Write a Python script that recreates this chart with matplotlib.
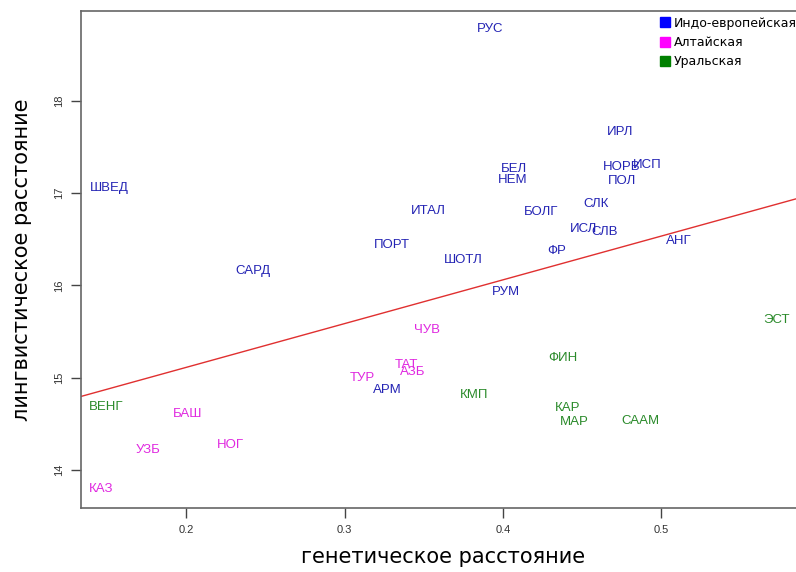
import numpy as np
import matplotlib.pyplot as plt
from matplotlib.lines import Line2D

# Indo-European languages
ie_names = ["РУС", "ИРЛ", "НОРВ", "ИСП", "ПОЛ", "БЕЛ", "НЕМ", "ШВЕД", "ИТАЛ", "БОЛГ",
            "СЛК", "ИСЛ", "СЛВ", "ПОРТ", "АНГ", "ФР", "ШОТЛ", "САРД", "РУМ", "АРМ"]
ie_x = [0.392, 0.474, 0.475, 0.491, 0.475, 0.407, 0.406, 0.151, 0.353, 0.424,
        0.459, 0.451, 0.464, 0.330, 0.511, 0.434, 0.375, 0.242, 0.402, 0.327]
ie_y = [18.78, 17.66, 17.28, 17.30, 17.13, 17.26, 17.14, 17.05, 16.81, 16.80,
        16.88, 16.61, 16.58, 16.44, 16.48, 16.37, 16.27, 16.15, 15.93, 14.86]

# Altaic languages
alt_names = ["ЧУВ", "ТАТ", "АЗБ", "ТУР", "БАШ", "НОГ", "УЗБ", "КАЗ"]
alt_x = [0.352, 0.339, 0.343, 0.311, 0.201, 0.228, 0.176, 0.146]
alt_y = [15.52, 15.14, 15.06, 15.00, 14.60, 14.27, 14.21, 13.79]

# Uralic languages
ur_names = ["ЭСТ", "ФИН", "КМП", "ВЕНГ", "КАР", "МАР", "СААМ"]
ur_x = [0.573, 0.438, 0.382, 0.149, 0.441, 0.445, 0.487]
ur_y = [15.62, 15.21, 14.81, 14.68, 14.67, 14.52, 14.53]

# regression line
intercept = 14.162
slope = 4.744

families = ["Индо-европейская", "Алтайская", "Уральская"]
text_colors = ["#2424b4", "#e028e0", "#2a8a2a"]
box_colors = ["#0000ff", "#ff00ff", "#008000"]

fig = plt.figure(figsize=(7.96, 5.72), dpi=100)
ax = fig.add_axes([0.1018, 0.1119, 0.91, 0.8697])

groups = [(ie_names, ie_x, ie_y), (alt_names, alt_x, alt_y), (ur_names, ur_x, ur_y)]
for (names, xs, ys), c in zip(groups, text_colors):
    for n, x, y in zip(names, xs, ys):
        ax.text(x, y, n, color=c, ha="center", va="center", fontsize=9.5,
                family="Liberation Sans")

xl = np.array([0.12, 0.62])
ax.plot(xl, intercept + slope * xl, color="#e03030", lw=1)

ax.set_xlim(0.1334, 0.591)
ax.set_ylim(13.585, 18.98)
ax.set_xticks([0.2, 0.3, 0.4, 0.5])
ax.set_yticks([14, 15, 16, 17, 18])
ax.tick_params(length=7, width=1, color="#444444", labelsize=8, pad=5)
for lab in ax.get_yticklabels():
    lab.set_rotation(90)
    lab.set_va("center")
for lab in ax.get_xticklabels() + ax.get_yticklabels():
    lab.set_family("Liberation Sans")
    lab.set_color("#333333")
for s in ["left", "bottom", "top"]:
    ax.spines[s].set_color("#666666")
    ax.spines[s].set_linewidth(1.2)
ax.spines["right"].set_visible(False)

ax.set_xlabel("генетическое расстояние", fontsize=15, labelpad=9)
ax.set_ylabel("лингвистическое расстояние", fontsize=15, labelpad=16)

handles = [Line2D([], [], marker="s", ls="", markersize=7.5, color=c) for c in box_colors]
fig.legend(handles, families, loc="upper right", bbox_to_anchor=(1.01, 0.984),
           frameon=False, fontsize=9, handlelength=0.8, handletextpad=0.3,
           labelspacing=0.5, borderaxespad=0.2)

fig.savefig("out.png", dpi=100)
